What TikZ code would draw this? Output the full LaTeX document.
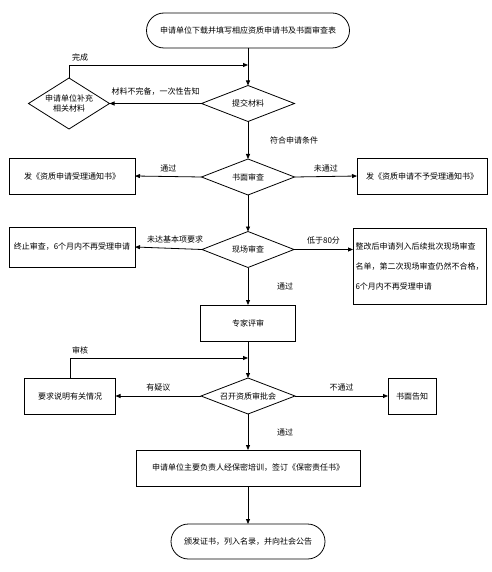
\documentclass[tikz,border=0pt]{standalone}
\usepackage{fontspec}
\newfontfamily\cjk{Noto Sans CJK SC}
\usetikzlibrary{shapes.geometric,shapes.misc,arrows.meta}
\begin{document}
\begin{tikzpicture}[x=1pt,y=-1pt,
  every node/.style={font=\cjk\fontsize{8}{10}\selectfont, inner sep=0pt, outer sep=0pt},
  proc/.style={draw, rectangle, line width=0.8pt},
  dec/.style={draw, diamond, line width=0.8pt, aspect=2.6},
  term/.style={draw, rounded rectangle, line width=0.8pt},
  ln/.style={line width=0.8pt},
  arr/.style={line width=0.8pt, -{Triangle[length=5pt,width=4pt]}}
]
\useasboundingbox (0,0) rectangle (491,572);

% nodes
\node[term, minimum width=203pt, minimum height=35pt] (top) at (248,30.5) {申请单位下载并填写相应资质申请书及书面审查表};
\coordinate (j1) at (248,65);
\node[dec, aspect=1.59, minimum width=81pt, minimum height=51pt, align=center] (sup) at (69,103.5) {申请单位补充\\相关材料};
\node[dec, minimum width=93pt, minimum height=36pt] (submit) at (248,103.5) {提交材料};
\node[dec, minimum width=93pt, minimum height=36pt] (written) at (248,177) {书面审查};
\node[proc, minimum width=126pt, minimum height=36pt] (accept) at (72,176) {发《资质申请受理通知书》};
\node[proc, minimum width=130pt, minimum height=36pt] (reject) at (422,176) {发《资质申请不予受理通知书》};
\node[dec, minimum width=92pt, minimum height=36pt] (site) at (248,249.5) {现场审查};
\node[proc, minimum width=126pt, minimum height=40pt] (stop) at (72,247) {终止审查，6个月内不再受理申请};
\node[proc, minimum width=133pt, minimum height=76pt, align=left, font=\cjk\fontsize{8}{20}\selectfont] (rectify) at (419.5,266) {整改后申请列入后续批次现场审查\\名单，第二次现场审查仍然不合格，\\6个月内不再受理申请};
\node[proc, minimum width=95pt, minimum height=36pt] (expert) at (248,323) {专家评审};
\coordinate (j2) at (248,358);
\node[proc, minimum width=91pt, minimum height=36pt] (explain) at (70,396) {要求说明有关情况};
\node[dec, minimum width=94pt, minimum height=36pt] (meeting) at (248,396) {召开资质审批会};
\node[proc, minimum width=48pt, minimum height=36pt] (notify) at (412,396) {书面告知};
\node[proc, minimum width=224pt, minimum height=36pt] (train) at (248,468) {申请单位主要负责人经保密培训，签订《保密责任书》};
\node[term, minimum width=154pt, minimum height=35pt] (final) at (248,541.5) {颁发证书，列入名录，并向社会公告};

% connectors
\draw[arr] (top.south) -- (submit.north);
\draw[arr] (sup.north) |- (j1);
\node[anchor=west] (lwc) at (72,57) {完成};
\draw[arr] (submit.west) -- node[above=8pt] (l1) {材料不完备，一次性告知} (sup.east);
\draw[arr] (submit.south) -- node[right=22pt] (l2) {符合申请条件} (written.north);
\draw[arr] (written.west) -- node[above=4.5pt] (l3) {通过} (accept.east);
\draw[arr] (written.east) -- node[above=4.5pt] (l4) {未通过} (reject.west);
\draw[arr] (written.south) -- (site.north);
\draw[arr] (site.west) -- node[above=5pt, pos=0.4] (l5) {未达基本项要求} (stop.east);
\draw[arr] (site.east) -- node[above=5pt] (l6) {低于80分} (rectify.west |- site.east);
\draw[arr] (site.south) -- node[right=29pt] (l7) {通过} (expert.north);
\draw[arr] (expert.south) -- (meeting.north);
\draw[arr] (explain.north) |- (j2);
\node[anchor=west] (lsh) at (72,350) {审核};
\draw[arr] (meeting.west) -- node[above=5pt] (l8) {有疑议} (explain.east);
\draw[arr] (meeting.east) -- node[above=5pt] (l9) {不通过} (notify.west);
\draw[arr] (meeting.south) -- node[right=29pt] (l10) {通过} (train.north);
\draw[arr] (train.south) -- (final.north);
\end{tikzpicture}
\end{document}
